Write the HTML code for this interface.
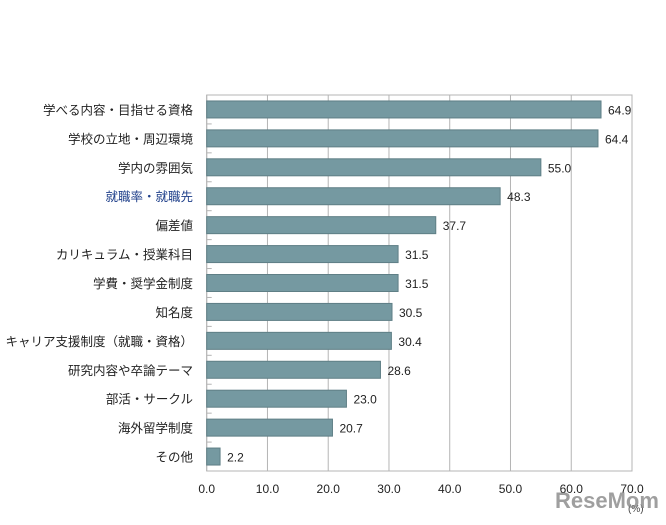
<!DOCTYPE html>
<html><head><meta charset="utf-8"><style>
body{margin:0;background:#fff;}
svg text{font-family:"Liberation Sans","Noto Sans CJK JP",sans-serif;}
</style></head><body>
<svg id="c" width="666" height="520"></svg>
<script>
const categories=["学べる内容・目指せる資格","学校の立地・周辺環境","学内の雰囲気","就職率・就職先","偏差値","カリキュラム・授業科目","学費・奨学金制度","知名度","キャリア支援制度（就職・資格）","研究内容や卒論テーマ","部活・サークル","海外留学制度","その他"];
const values=[64.9,64.4,55.0,48.3,37.7,31.5,31.5,30.5,30.4,28.6,23.0,20.7,2.2];
const ticks=[0,10,20,30,40,50,60,70];
const NS="http://www.w3.org/2000/svg",svg=document.getElementById('c');
const x0=206.7,x1=632,plotTop=95,plotBot=471,maxV=70;
const xs=v=>x0+(x1-x0)*v/maxV;
const rowH=(plotBot-plotTop)/categories.length;
function el(t,a,p){const e=document.createElementNS(NS,t);for(const k in a)e.setAttribute(k,a[k]);(p||svg).appendChild(e);return e;}
ticks.forEach(t=>{
 const g=el('line',{x1:xs(t),x2:xs(t),y1:plotTop,y2:plotBot,stroke:'#b4b4b4','stroke-width':1});
 
 
 const l=el('text',{x:xs(t),y:493,'text-anchor':'middle','font-size':12,fill:'#222'});
 l.textContent=t.toFixed(1);
 
 
});
const fr=el('rect',{x:x0,y:plotTop,width:x1-x0,height:plotBot-plotTop,fill:'none',stroke:'#b4b4b4'});


categories.forEach((c,i)=>{
 const cy=plotTop+rowH*(i+0.5);
 const b=el('rect',{x:x0,y:cy-8.5,width:xs(values[i])-x0,height:17,fill:'#7599a1',stroke:'#5f7f86','stroke-width':1});
 
 
 const v=el('text',{x:xs(values[i])+7,y:cy+5,'font-size':12,fill:'#222'});
 v.textContent=values[i].toFixed(1);
 
 
 const l=el('text',{x:193,y:cy+5,'text-anchor':'end','font-size':12.5,fill:i===3?'#1f3f8a':'#222'});
 l.textContent=c;
 
 
 if(i>0){const tk=el('line',{x1:x0,x2:x0+5,y1:plotTop+rowH*i,y2:plotTop+rowH*i,stroke:'#b4b4b4'});
 
 }
});
const u=el('text',{x:628,y:512,'font-size':10,fill:'#444'});
u.textContent='(%)';


const w=el('text',{x:555,y:508,'font-size':22,'font-weight':'bold',fill:'#888',opacity:0.8});
w.textContent='ReseMom';


</script>
</body></html>
